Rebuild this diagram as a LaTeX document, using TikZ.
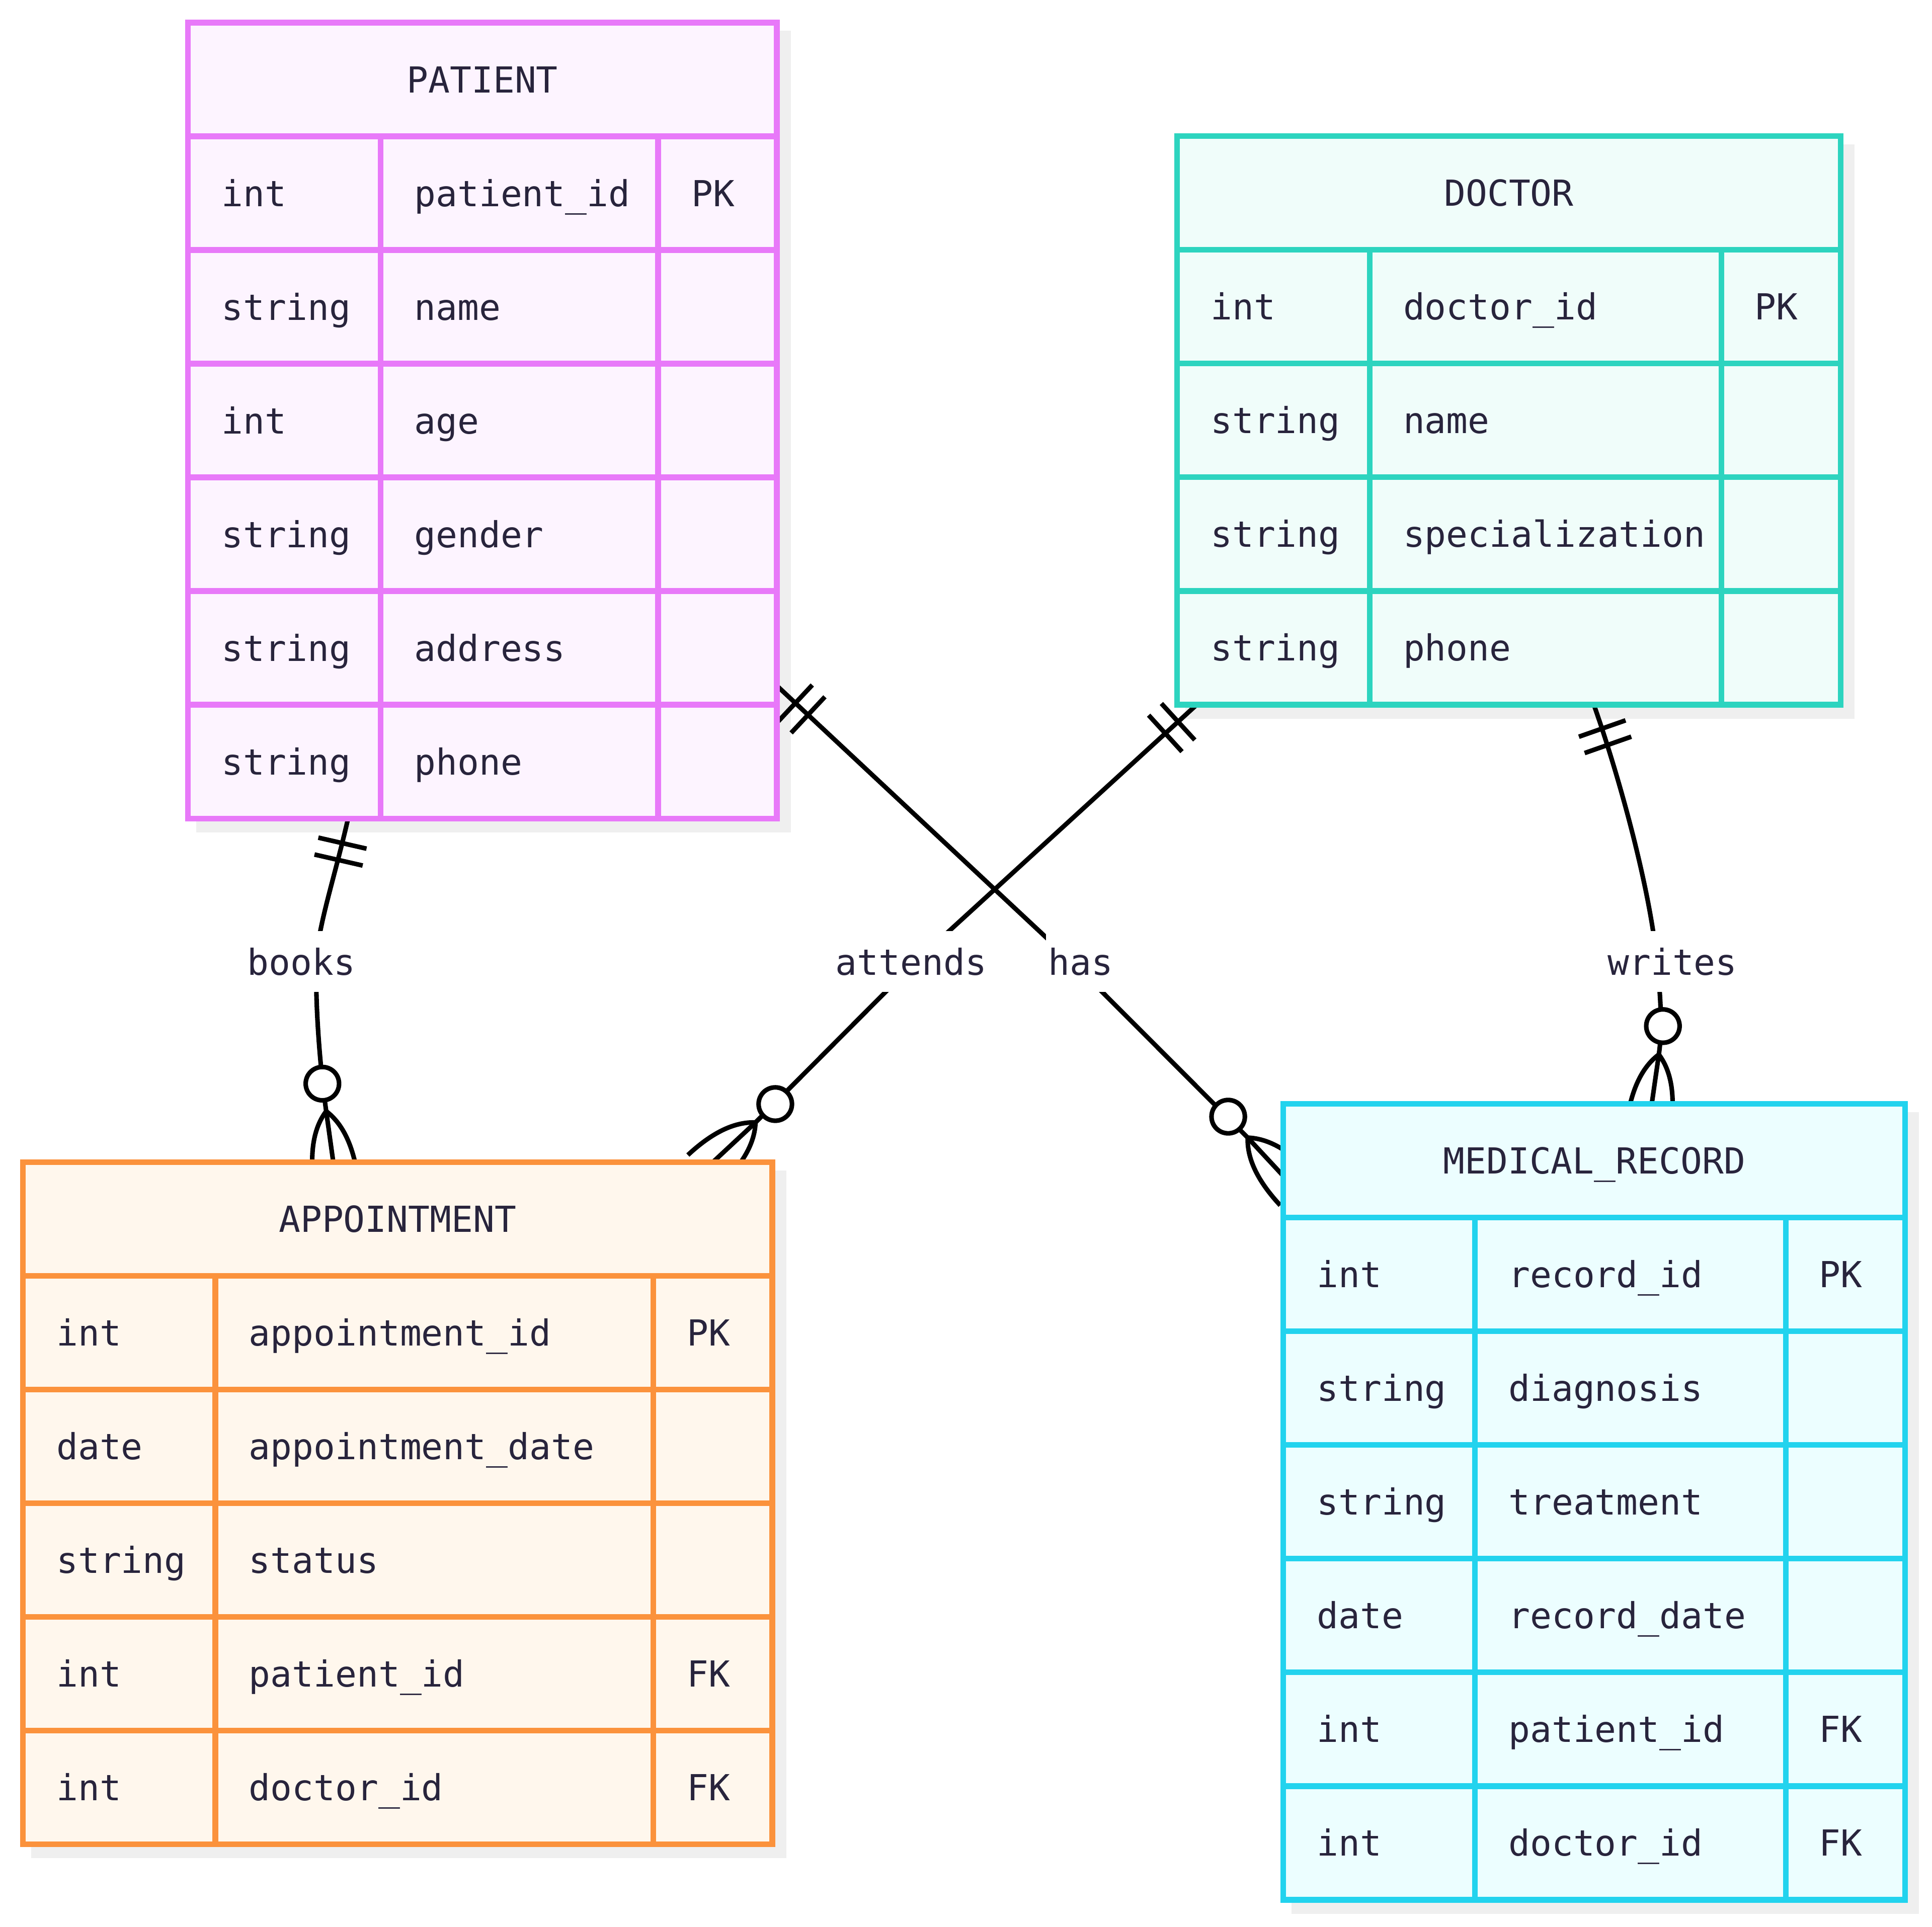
\documentclass[tikz,border=0pt]{standalone}
\usepackage{fontspec}
\usetikzlibrary{calc}
\newfontfamily\erfont{DejaVu Sans Mono}

\definecolor{ink}{HTML}{28243C}
\definecolor{shadowgrey}{HTML}{EFEFEF}
\definecolor{patientline}{HTML}{E879F9}
\definecolor{patientfill}{HTML}{FDF4FF}
\definecolor{doctorline}{HTML}{2DD4BF}
\definecolor{doctorfill}{HTML}{F0FDFA}
\definecolor{appointmentline}{HTML}{FB923C}
\definecolor{appointmentfill}{HTML}{FFF7ED}
\definecolor{recordline}{HTML}{22D3EE}
\definecolor{recordfill}{HTML}{ECFEFF}

\pgfdeclarelayer{back}
\pgfdeclarelayer{lines}
\pgfsetlayers{back,lines,main}

% entity table: #1 name and colour, #2 left, #3 top, #4 width, #5 #6 column lines, #7 title, #8 rows
\newcommand{\ertable}[8]{%
  \foreach \row [count=\n] in {#8} {\xdef\nrows{\n}}
  \pgfmathsetmacro{\tabh}{92*(\nrows+1)}
  \pgfmathsetmacro{\tabb}{#3+\tabh}
  \begin{pgfonlayer}{back}
    \fill[shadowgrey] (#2+6.7,#3+6.7) rectangle (#2+#4+11.3,\tabb+11.3);
  \end{pgfonlayer}
  \node[erbox, draw=#1line, fill=#1fill, minimum width=#4pt, minimum height=\tabh pt] (#1) at (#2,#3) {};
  \foreach \r in {1,...,\nrows} \draw[gridline, #1line] (#2,#3+92*\r) -- (#2+#4,#3+92*\r);
  \draw[gridline, #1line] (#2+#5,#3+92) -- (#2+#5,\tabb) (#2+#6,#3+92) -- (#2+#6,\tabb);
  \node[ertext, anchor=base] at (#2+#4/2,#3+56.6) {#7};
  \foreach \ty/\fd/\ky [count=\i] in {#8} {
    \node[ertext] at (#2+27,#3+92*\i+56.6) {\ty};
    \node[ertext] at (#2+#5+27,#3+92*\i+56.6) {\fd};
    \node[ertext] at (#2+#6+27,#3+92*\i+56.6) {\ky};
  }
}

% exactly one: #1 end on the box, #2 point along the line
\newcommand{\onlyone}[2]{%
  \draw[conn] ($(#1)!20.5pt!(#2)!20pt!90:(#2)$) -- ($(#1)!20.5pt!(#2)!20pt!-90:(#2)$);
  \draw[conn] ($(#1)!34.5pt!(#2)!20pt!90:(#2)$) -- ($(#1)!34.5pt!(#2)!20pt!-90:(#2)$);
}

% zero or many: #1 fork point, #2 ring centre
\newcommand{\zeromany}[2]{%
  \draw[conn] (#1) -- ($(#1)!58pt!180:(#2)$);
  \draw[conn] (#1) .. controls ($(#1)!12pt!180:(#2)!12pt!90:(#1)$) and ($(#1)!31pt!180:(#2)!18pt!90:(#1)$) .. ($(#1)!58pt!180:(#2)!18pt!90:(#1)$);
  \draw[conn] (#1) .. controls ($(#1)!12pt!180:(#2)!12pt!-90:(#1)$) and ($(#1)!31pt!180:(#2)!18pt!-90:(#1)$) .. ($(#1)!58pt!180:(#2)!18pt!-90:(#1)$);
  \draw[conn, fill=white] (#2) circle (13.5pt);
}

\begin{document}
\begin{tikzpicture}[x=1pt, y=-1pt]
  \tikzstyle{erbox}=[rectangle, anchor=north west, line width=4.6pt, inner sep=0pt, outer sep=0pt]
  \tikzstyle{gridline}=[line width=4.6pt]
  \tikzstyle{ertext}=[font=\erfont\fontsize{29}{34}\selectfont, text=ink, inner sep=0pt, anchor=base west]
  \tikzstyle{conn}=[draw=black, line width=3.7pt]
  \tikzstyle{lbl}=[ertext, anchor=base, fill=white, inner xsep=2pt, text height=35.6pt, text depth=13.5pt]

  \useasboundingbox (0,0) rectangle (1563,1559.3);

  % Draw entities
  \ertable{patient}{152}{18.3}{476.5}{156}{380.4}{PATIENT}{int/patient\_id/PK, string/name/{}, int/age/{}, string/gender/{}, string/address/{}, string/phone/{}}
  \ertable{doctor}{952.2}{110.2}{537}{155.8}{440.3}{DOCTOR}{int/doctor\_id/PK, string/name/{}, string/specialization/{}, string/phone/{}}
  \ertable{appointment}{18.5}{940.3}{606.3}{155.7}{510.1}{APPOINTMENT}{int/appointment\_id/PK, date/appointment\_date/{}, string/status/{}, int/patient\_id/FK, int/doctor\_id/FK}
  \ertable{record}{1038.2}{893.3}{503.1}{155}{406.4}{MEDICAL\_RECORD}{int/record\_id/PK, string/diagnosis/{}, string/treatment/{}, date/record\_date/{}, int/patient\_id/FK, int/doctor\_id/FK}

  % Relationship ends
  \coordinate (pbooks) at ($(patient.south west)+(129.6,0)$);
  \coordinate (phas) at ($(patient.south east)+(0,-107.4)$);
  \coordinate (dattends) at ($(doctor.south west)+(16,0)$);
  \coordinate (dwrites) at ($(doctor.south west)+(337.2,0)$);
  \coordinate (abooks) at ($(appointment.north west)+(245.4,-41.1)$);
  \coordinate (obooks) at ($(appointment.north west)+(242.3,-63.4)$);
  \coordinate (aattends) at ($(appointment.north east)+(-13.6,-32)$);
  \coordinate (oattends) at ($(appointment.north east)+(2.4,-46.9)$);
  \coordinate (rhas) at ($(record.north west)+(-28.8,27.3)$);
  \coordinate (ohas) at ($(record.north west)+(-44.6,10.3)$);
  \coordinate (rwrites) at ($(record.north west)+(303.8,-40)$);
  \coordinate (owrites) at ($(record.north west)+(307.1,-63)$);
  \coordinate (mbooks) at (256,778);
  \coordinate (mattends) at (742,777);
  \coordinate (mhas) at (866,777);
  \coordinate (mwrites) at (1340.4,777);

  \begin{pgfonlayer}{lines}
    % Draw relationships
    \draw[conn] (pbooks) .. controls (270,713) and (257,750) .. (mbooks) .. controls (255,806) and (257.7,854.6) .. (abooks);
    \draw[conn] (dattends) -- (mattends) -- (aattends);
    \draw[conn] (phas) -- (mhas) -- (rhas);
    \draw[conn] (dwrites) .. controls (1309.8,628.3) and (1334.4,717) .. (mwrites) .. controls (1342.4,797) and (1345.6,828.6) .. (rwrites);

    \node[lbl] (lbooks) at (243.8,789) {books};
    \node[lbl] (lattends) at (737.1,789) {attends};
    \node[lbl] (lhas) at (874.2,789) {has};
    \node[lbl] (lwrites) at (1353,789) {writes};

    \onlyone{pbooks}{270,713}
    \onlyone{dattends}{mattends}
    \onlyone{phas}{mhas}
    \onlyone{dwrites}{1309.8,628.3}
    \zeromany{abooks}{obooks}
    \zeromany{aattends}{oattends}
    \zeromany{rhas}{ohas}
    \zeromany{rwrites}{owrites}
  \end{pgfonlayer}
\end{tikzpicture}
\end{document}
